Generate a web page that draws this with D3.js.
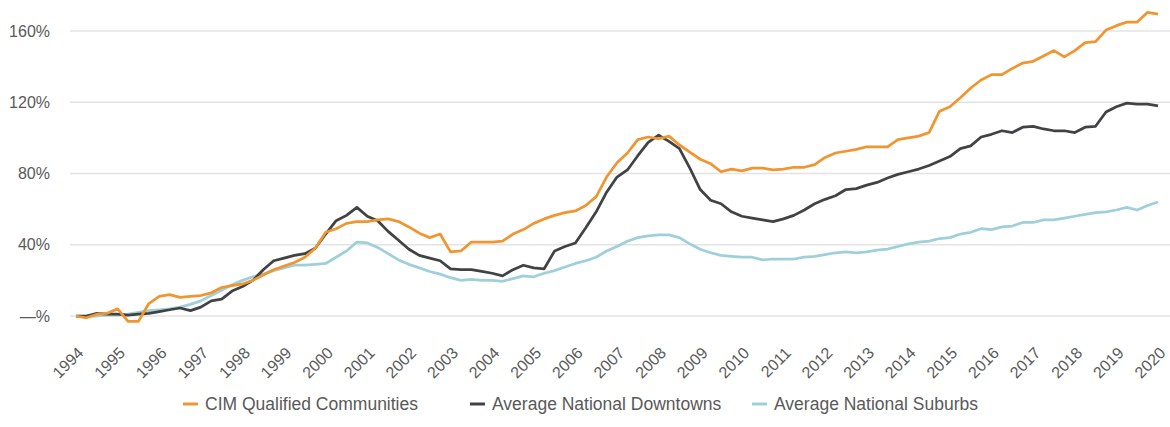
<!DOCTYPE html>
<html>
<head>
<meta charset="utf-8">
<script src="https://cdn.jsdelivr.net/npm/d3@7"></script>
<style>
  html, body { margin: 0; padding: 0; background: #ffffff; }
  svg { display: block; }
  text { font-family: "Liberation Sans", Arial, sans-serif; fill: #595959; }
</style>
</head>
<body>
<svg id="chart" width="1170" height="427"></svg>
<script>
// ---- Data ----
const years = [1994,1995,1996,1997,1998,1999,2000,2001,2002,2003,2004,2005,2006,2007,2008,2009,2010,2011,2012,2013,2014,2015,2016,2017,2018,2019,2020];
const quarters = years.flatMap(y => ["Q1","Q2","Q3","Q4"].map(q => y + " " + q)).slice(0, 105);

const seriesNames = ["CIM Qualified Communities", "Average National Downtowns", "Average National Suburbs"];

const cim = [0,-1,1,1.5,4,-3,-3,7,11,12,10.5,11,11.5,13,16,17,18,20,23,26,28,30,33,38,47,49,52,53,53,54,54.5,53,50,46.5,44,46,36,36.5,41.5,41.5,41.5,42,46,48.5,52,54.5,56.5,58,59,62,67,78,86,91.5,99,100.5,99.5,101,96,92,88,85.5,81,82.5,81.5,83,83,82,82.5,83.5,83.5,85,89,91.5,92.5,93.5,95,95,95,99,100,101,103,115,117.5,122.5,128,132.5,135.5,135.5,139,142,143,146,149,145.5,149,153.5,154,160.5,163,165,165,170.5,169.5];

const downtowns = [0,0,1.5,1,1,0.5,1,1.5,2.5,3.5,4.5,3,5,8.5,9.5,14,16.5,20,26,31,32.5,34,35,38,46,53.5,56.5,61,56,53.5,47.5,42.5,37.5,34,32.5,31,26.5,26,26,25,24,22.5,26,28.5,27,26.5,36.5,39,41,49.5,58.5,69.5,78,82,90,97.5,101.5,98,94,83,71,65,63,58.5,56,55,54,53,54.5,56.5,59.5,63,65.5,67.5,71,71.5,73.5,75,77.5,79.5,81,82.5,84.5,87,89.5,94,95.5,100.5,102,104,103,106,106.5,105,104,104,103,106,106.5,114.5,117.5,119.5,119,119,118];

const suburbs = [0,0,0,0.5,0.5,1,2,3,3.5,4,5,6.5,8.5,11.5,14.5,17.5,20,22,23.5,25.5,27,28.5,28.5,29,29.5,33,36.5,41.5,41,38.5,35,31.5,29,27,25,23.5,21.5,20,20.5,20,20,19.5,21,22.5,22,24,25.5,27.5,29.5,31,33,36.5,39,42,44,45,45.5,45.5,44,40.5,37.5,35.5,34,33.5,33,33,31.5,32,32,32,33,33.5,34.5,35.5,36,35.5,36,37,37.5,39,40.5,41.5,42,43.5,44,46,47,49,48.5,50,50.5,52.5,52.5,54,54,55,56,57,58,58.5,59.5,61,59.5,62,64];

const yTicks = [0, 40, 80, 120, 160];
const yTickLabels = ["—%", "40%", "80%", "120%", "160%"];

const colors = ["#f0952f", "#404244", "#9fcfdb"];

// ---- Chart ----
const svg = d3.select("#chart");

const x = d3.scalePoint().domain(quarters).range([76, 1158]);
const y = d3.scaleLinear().domain([0, 160]).range([316, 31]);

// gridlines
svg.append("g").selectAll("line")
  .data(yTicks).join("line")
  .attr("x1", 70).attr("x2", 1170)
  .attr("y1", d => y(d)).attr("y2", d => y(d))
  .attr("stroke", "#e3e3e3").attr("stroke-width", 1.5);

// y axis labels
const yAxis = d3.axisLeft(y).tickValues(yTicks)
  .tickFormat((d, i) => yTickLabels[i]).tickSize(0).tickPadding(0);
const gy = svg.append("g").attr("transform", "translate(50,0)").call(yAxis);
gy.select(".domain").remove();
gy.selectAll("text").attr("font-size", 16).attr("fill", "#595959")
  .attr("font-family", "Liberation Sans, Arial, sans-serif");

// x axis labels
const tickQuarters = quarters.filter(q => q.endsWith("Q1"));
const xAxis = d3.axisBottom(x).tickValues(tickQuarters)
  .tickFormat(q => q.slice(0, 4)).tickSize(0);
const gx = svg.append("g").attr("transform", "translate(0,350)").call(xAxis);
gx.select(".domain").remove();
gx.selectAll("text")
  .attr("font-size", 16).attr("fill", "#595959")
  .attr("font-family", "Liberation Sans, Arial, sans-serif")
  .attr("text-anchor", "end")
  .attr("dy", "0.35em")
  .attr("transform", "translate(4,0) rotate(-45)")
  .attr("y", 0).attr("x", 0);

// lines
const allSeries = [cim, downtowns, suburbs];
const line = d3.line().x((d, i) => x(quarters[i])).y(d => y(d));
[2, 1, 0].forEach(k => {
  svg.append("path")
    .datum(allSeries[k])
    .attr("fill", "none")
    .attr("stroke", colors[k])
    .attr("stroke-width", 2.75)
    .attr("stroke-linejoin", "round")
    .attr("d", line);
});

// legend
const legendX = [183, 470, 752];
const lg = svg.append("g").attr("transform", "translate(0,404)");
seriesNames.forEach((name, i) => {
  lg.append("line").attr("x1", legendX[i]).attr("x2", legendX[i] + 15)
    .attr("y1", 0).attr("y2", 0).attr("stroke", colors[i]).attr("stroke-width", 3);
  lg.append("text").attr("x", legendX[i] + 22).attr("y", 0).attr("dy", "0.35em")
    .attr("font-size", 17.5).text(name);
});
</script>
</body>
</html>
